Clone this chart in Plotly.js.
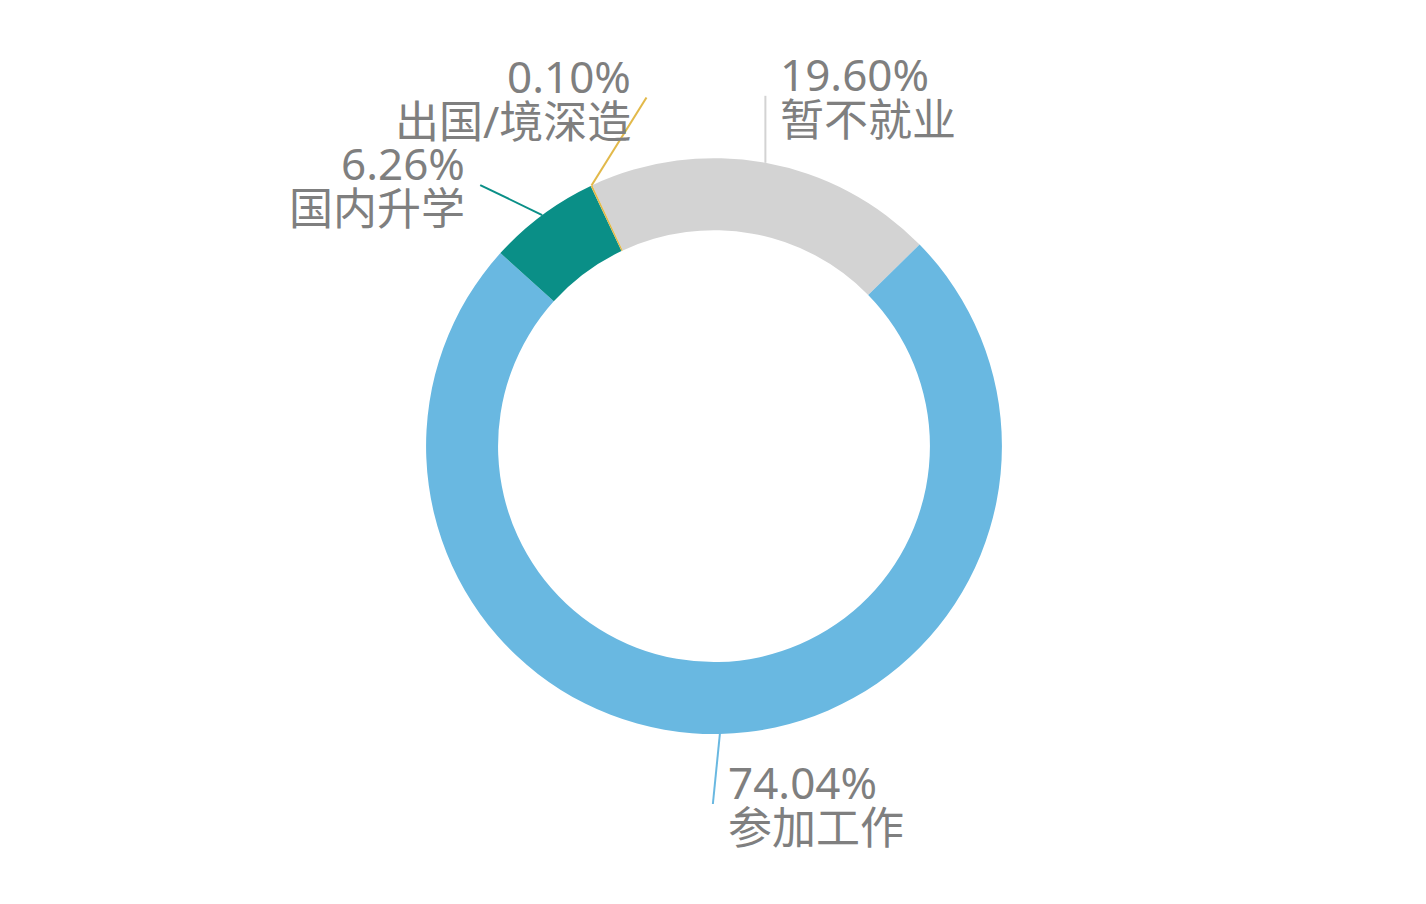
<!DOCTYPE html>
<html>
<head>
<meta charset="utf-8">
<script src="https://cdn.plot.ly/plotly-3.0.1.min.js"></script>
<style>
  html, body { margin: 0; padding: 0; background: #ffffff; }
  #chart { width: 1426px; height: 904px; }
</style>
</head>
<body>
<div id="chart"></div>
<script>
// slice data, in drawing order (clockwise from the start angle)
var labels = ['暂不就业', '参加工作', '国内升学', '出国/境深造'];
var values = [19.60, 74.04, 6.26, 0.10];
var percentText = ['19.60%', '74.04%', '6.26%', '0.10%'];
var sliceColors = ['#d3d3d3', '#69b8e1', '#0a8f87', '#e2b94a'];

// label placement, in pixels: leader line end relative to the slice edge,
// and which side of the line end the text sits on
var lineOffsets = [[0, -67], [-7, 70], [-62, -30], [55, -88]];
var textSide = ['left', 'left', 'right', 'right'];

var W = 1426, H = 904;
var startAngle = -25;
var domainX = [0.2987, 0.7027];
var domainY = [0.188, 0.825];
var textColor = '#7f7f7f';
var fontFamily = '"Noto Sans", "Noto Sans CJK SC", sans-serif';

function pxToPaper(px, py) {
    return [px / W, 1 - py / H];
}

function buildLabels() {
    var cx = (domainX[0] + domainX[1]) / 2 * W;
    var cy = (1 - (domainY[0] + domainY[1]) / 2) * H;
    var r = Math.min((domainX[1] - domainX[0]) * W, (domainY[1] - domainY[0]) * H) / 2;
    var total = values.reduce(function (a, b) { return a + b; }, 0);

    var shapes = [];
    var annotations = [];
    var cum = 0;
    for (var i = 0; i < values.length; i++) {
        var mid = (startAngle + (cum + values[i] / 2) / total * 360) * Math.PI / 180;
        cum += values[i];
        var ax = cx + r * Math.sin(mid);
        var ay = cy - r * Math.cos(mid);
        var ex = ax + lineOffsets[i][0];
        var ey = ay + lineOffsets[i][1];
        var p0 = pxToPaper(ax, ay);
        var p1 = pxToPaper(ex, ey);
        shapes.push({
            type: 'line', xref: 'paper', yref: 'paper',
            x0: p0[0], y0: p0[1], x1: p1[0], y1: p1[1],
            line: { color: sliceColors[i], width: 2 }
        });

        var tx = textSide[i] === 'left' ? ex + 13 : ex - 13;
        var topY = pxToPaper(tx, ey - 22);
        var botY = pxToPaper(tx, ey + 23);
        annotations.push({
            xref: 'paper', yref: 'paper', x: topY[0], y: topY[1],
            xanchor: textSide[i], yanchor: 'middle', showarrow: false,
            text: percentText[i],
            font: { family: fontFamily, size: 44, color: textColor }
        });
        annotations.push({
            xref: 'paper', yref: 'paper', x: botY[0], y: botY[1],
            xanchor: textSide[i], yanchor: 'middle', showarrow: false,
            text: labels[i],
            font: { family: fontFamily, size: 44, color: textColor }
        });
    }
    return { shapes: shapes, annotations: annotations };
}

var extras = buildLabels();

var data = [{
    type: 'pie',
    labels: labels,
    values: values,
    hole: 0.75,
    sort: false,
    direction: 'clockwise',
    rotation: startAngle,
    textinfo: 'none',
    hoverinfo: 'label+percent',
    marker: { colors: sliceColors, line: { width: 0 } },
    domain: { x: domainX, y: domainY }
}];

var layout = {
    width: W,
    height: H,
    margin: { l: 0, r: 0, t: 0, b: 0 },
    showlegend: false,
    paper_bgcolor: '#ffffff',
    shapes: extras.shapes,
    annotations: extras.annotations
};

Plotly.newPlot('chart', data, layout, { displayModeBar: false, staticPlot: true });
</script>
</body>
</html>
